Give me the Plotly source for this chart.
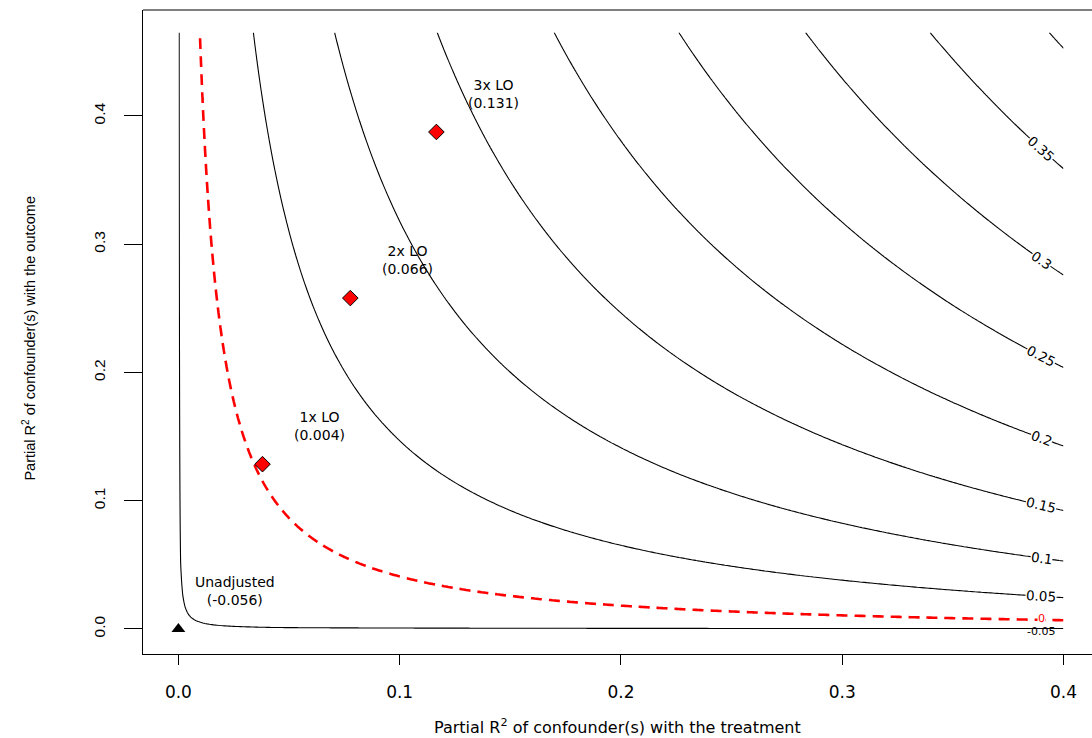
import numpy as np
import plotly.graph_objects as go

# ---- data ----
unadjusted_estimate = -0.056          # estimate with no confounding
bias_scale = 0.83                     # se * sqrt(dof) of the treatment coefficient
r2dz_max = 0.4
r2yz_max = 0.465

bench_labels = ["1x LO", "2x LO", "3x LO"]
bench_r2dz = [0.038, 0.0777, 0.1166]
bench_r2yz = [0.1285, 0.258, 0.3875]
bench_adjusted = [0.004, 0.066, 0.131]

black_levels = [-0.05, 0.05, 0.10, 0.15, 0.20, 0.25, 0.30, 0.35, 0.40]
threshold_level = 0.0
labelled_levels = [0.35, 0.30, 0.25, 0.20, 0.15, 0.10, 0.05, 0.0, -0.05]

x_ticks = [0.0, 0.1, 0.2, 0.3, 0.4]
y_ticks = [0.0, 0.1, 0.2, 0.3, 0.4]


def adjusted(r2d, r2y):
    return unadjusted_estimate + bias_scale * np.sqrt(r2y * r2d / (1 - r2d))


gx = np.linspace(0, r2dz_max, 401)
gy = np.linspace(0, r2yz_max, 401)
GX, GY = np.meshgrid(gx, gy)
Z = adjusted(GX, GY)

black = [[0, "black"], [1, "black"]]
red = [[0, "red"], [1, "red"]]

fig = go.Figure()


def add_levels(levels, cscale, width, dash=None):
    for lv in levels:
        fig.add_trace(go.Contour(
            x=gx, y=gy, z=Z, autocontour=False,
            contours=dict(start=lv, end=lv, size=0.05, coloring="lines",
                          showlabels=False),
            colorscale=cscale, showscale=False,
            line=dict(width=width, dash=dash, smoothing=0),
            hoverinfo="skip"))


add_levels(black_levels, black, 1.1)
add_levels([threshold_level], red, 2.6, dash="11px,7px")

# benchmark points
fig.add_trace(go.Scatter(x=bench_r2dz, y=bench_r2yz, mode="markers",
                         marker=dict(symbol="diamond", size=12, color="red",
                                     line=dict(color="black", width=1)),
                         hoverinfo="skip"))
fig.add_trace(go.Scatter(x=[0], y=[0], mode="markers",
                         marker=dict(symbol="triangle-up", size=12, color="black"),
                         hoverinfo="skip"))

lab_font = dict(family="DejaVu Sans", size=14, color="black")
for lab, x, y, v in zip(bench_labels, bench_r2dz, bench_r2yz, bench_adjusted):
    fig.add_annotation(x=x, y=y, xshift=57, yshift=38, showarrow=False,
                       text=f"{lab}<br>({v:.3f})", font=lab_font)
fig.add_annotation(x=0, y=0, xshift=57, yshift=38, showarrow=False,
                   text=f"Unadjusted<br>({unadjusted_estimate:.3f})", font=lab_font)

# contour labels near the right end, rotated along the lines
px_per_x = 2212.5
px_per_y = 1282.5
lab_x = 0.39
for lv in labelled_levels:
    c = ((lv - unadjusted_estimate) / bias_scale) ** 2
    y = c * (1 - lab_x) / lab_x
    slope = (c / lab_x ** 2) * px_per_y / px_per_x
    ang = float(np.degrees(np.arctan(slope)))
    txt = f"{lv:g}"
    low = lv in (0.0, -0.05)
    fig.add_annotation(x=lab_x, y=y, showarrow=False, text=txt, textangle=ang,
                       bgcolor="white" if lv != -0.05 else "rgba(0,0,0,0)",
                       borderpad=0,
                       yshift=-3 if lv == -0.05 else (1 if lv == 0 else 0),
                       font=dict(family="DejaVu Sans", size=11 if low else 13.5,
                                 color="red" if lv == 0 else "black"))

# axis titles
fig.add_annotation(xref="paper", yref="paper", x=0.5, y=-0.113, yanchor="middle",
                   showarrow=False,
                   text="Partial R<sup>2</sup> of confounder(s) with the treatment",
                   font=dict(family="DejaVu Sans", size=16, color="black"))
fig.add_annotation(xref="paper", yref="paper", x=-0.12, y=0.49, xanchor="center",
                   yanchor="middle", textangle=-90, showarrow=False,
                   text="Partial R<sup>2</sup> of confounder(s) with the outcome",
                   font=dict(family="Liberation Sans", size=14.5, color="black"))

# top frame line
fig.add_shape(type="line", xref="paper", yref="paper", x0=0, x1=1, y0=1, y1=1,
              line=dict(color="black", width=1.2))

fig.update_layout(
    width=1092, height=738,
    margin=dict(l=143, r=0, t=10, b=84),
    paper_bgcolor="white", plot_bgcolor="white",
    showlegend=False,
    xaxis=dict(range=[-0.016, 0.4129], tickvals=x_ticks,
               ticktext=[f"{t:.1f}" for t in x_ticks],
               showgrid=False, zeroline=False, showline=True, linecolor="black",
               linewidth=1.2, ticks="outside", ticklen=10, tickcolor="black",
               ticklabelstandoff=12,
               tickfont=dict(family="DejaVu Sans", size=17, color="black")),
    yaxis=dict(range=[-0.0195, 0.4826], tickvals=y_ticks,
               ticktext=[f"{t:.1f}" for t in y_ticks],
               showgrid=False, zeroline=False, showline=True, linecolor="black",
               linewidth=1.2, ticks="outside", ticklen=18, tickcolor="black",
               tickangle=-90, ticklabelstandoff=13,
               tickfont=dict(family="Liberation Sans", size=15.5, color="black")),
)

fig.write_html("out.html")
